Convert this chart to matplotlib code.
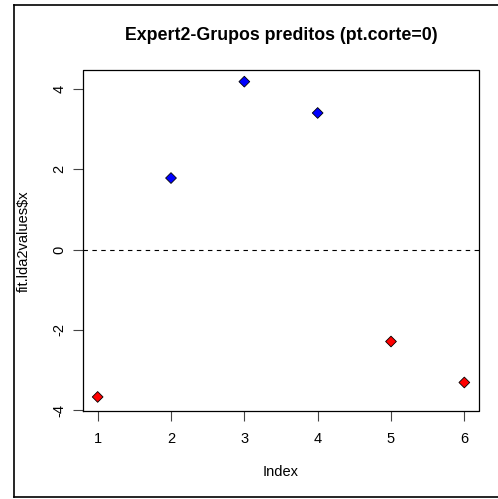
import matplotlib
matplotlib.use("Agg")
import matplotlib.pyplot as plt
from matplotlib.lines import Line2D

index = [1, 2, 3, 4, 5, 6]
values = [-3.67, 1.78, 4.18, 3.40, -2.29, -3.31]
colors = ["red", "blue", "blue", "blue", "red", "red"]
xticks = [1, 2, 3, 4, 5, 6]
yticks = [-4, -2, 0, 2, 4]

plt.rcParams['font.family'] = ['Liberation Sans', 'DejaVu Sans']

fig = plt.figure(figsize=(4.98, 4.99), dpi=100)
ax = fig.add_axes([83/498, 1-411/499, (479-83)/498, (411-70)/499])

ax.scatter(index, values, c=colors, marker='D', s=30, edgecolors='black', linewidths=0.6, zorder=3)
ax.axhline(0, color='black', linestyle=(0, (4, 4)), linewidth=0.8)

ax.set_xlim(0.8, 6.2)
ax.set_ylim(-4.02, 4.47)
ax.set_xticks(xticks)
ax.set_yticks(yticks)
ax.set_yticklabels([str(v) for v in yticks], rotation=90, va='center')
ax.tick_params(axis='both', direction='out', length=7, width=0.8, labelsize=10.5, colors='#444444', labelcolor='black')
ax.tick_params(axis='x', pad=8)
ax.tick_params(axis='y', pad=5)
for s in ax.spines.values():
    s.set_visible(False)
# full box
ax.add_line(Line2D([0, 0, 1, 1, 0], [0, 1, 1, 0, 0], transform=ax.transAxes, color='black', linewidth=0.9, clip_on=False))

fig.text(281/498, 1-472/499, 'Index', ha='center', va='center', fontsize=10.5)
fig.text(24/498, 1-241/499, 'fit.lda2values$x', ha='center', va='center', rotation=90, fontsize=10.5)
fig.text(281/498, 1-36/499, 'Expert2-Grupos preditos (pt.corte=0)', ha='center', va='center', fontsize=12.8, fontweight='bold')

# outer frame
fig.add_artist(Line2D([14/498, 14/498], [1-5/499, 1-497/499], transform=fig.transFigure, color='black', linewidth=1.2))
fig.add_artist(Line2D([14/498, 1], [1-5/499, 1-5/499], transform=fig.transFigure, color='black', linewidth=1.2))
fig.add_artist(Line2D([14/498, 1], [1-497/499, 1-497/499], transform=fig.transFigure, color='black', linewidth=1.2))

fig.savefig('out.png', dpi=100)
